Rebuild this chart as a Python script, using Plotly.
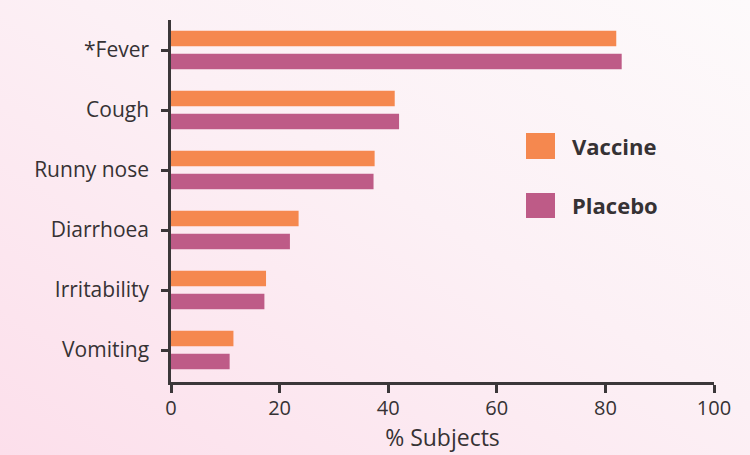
import plotly.graph_objects as go

# Symptoms, listed bottom to top on the category axis
symptoms = ["Vomiting", "Irritability", "Diarrhoea", "Runny nose", "Cough", "*Fever"]
vaccine_pct = [11.5, 17.5, 23.5, 37.5, 41.2, 82.0]
placebo_pct = [10.8, 17.2, 21.9, 37.3, 42.0, 83.0]

series_names = ["Vaccine", "Placebo"]
x_ticks = [0, 20, 40, 60, 80, 100]

VACCINE_COLOR = "#f5884f"
PLACEBO_COLOR = "#be5b87"
TEXT_COLOR = "#363234"
AXIS_COLOR = "#3b3739"
FONT = "Open Sans, Lato, sans-serif"

W, H = 750, 455
M_L, M_R, M_T, M_B = 171, 36, 20, 73
PW, PH = W - M_L - M_R, H - M_T - M_B

fig = go.Figure()
# placebo is drawn first so it sits below the vaccine bar in each group
fig.add_trace(go.Bar(y=symptoms, x=placebo_pct, orientation="h",
                     name=series_names[1], marker=dict(color=PLACEBO_COLOR, line=dict(width=0))))
fig.add_trace(go.Bar(y=symptoms, x=vaccine_pct, orientation="h",
                     name=series_names[0], marker=dict(color=VACCINE_COLOR, line=dict(width=0))))

# soft pink diagonal background over the whole canvas
bg_svg = (
    "data:image/svg+xml;utf8,"
    "<svg xmlns='http://www.w3.org/2000/svg' width='750' height='455' preserveAspectRatio='none'>"
    "<defs><linearGradient id='g' x1='0' y1='1' x2='1' y2='0'>"
    "<stop offset='0' stop-color='%23fcdfeb'/>"
    "<stop offset='0.55' stop-color='%23fcf0f5'/>"
    "<stop offset='1' stop-color='%23fdfafb'/>"
    "</linearGradient></defs>"
    "<rect width='750' height='455' fill='url(%23g)'/></svg>"
)
fig.add_layout_image(dict(
    source=bg_svg, xref="paper", yref="paper",
    x=-M_L / PW, y=1 + M_T / PH, sizex=W / PW, sizey=H / PH,
    xanchor="left", yanchor="top", sizing="stretch", layer="below",
))

# legend: colour swatches with bold labels
legend_items = [(series_names[0], VACCINE_COLOR, 133, 159),
                (series_names[1], PLACEBO_COLOR, 193, 218)]
for name, color, top_px, bot_px in legend_items:
    y0 = (H - M_B - bot_px) / PH
    y1 = (H - M_B - top_px) / PH
    fig.add_shape(type="rect", xref="paper", yref="paper",
                  x0=(526 - M_L) / PW, x1=(555 - M_L) / PW, y0=y0, y1=y1,
                  fillcolor=color, line=dict(width=0))
    fig.add_annotation(xref="paper", yref="paper", x=(570 - M_L) / PW, y=(y0 + y1) / 2,
                       text=f"<b>{name}</b>", showarrow=False, xanchor="left", yanchor="middle",
                       font=dict(family=FONT, size=22, color=TEXT_COLOR))

fig.update_layout(
    width=W, height=H,
    margin=dict(l=M_L, r=M_R, t=M_T, b=M_B, pad=0),
    barmode="group", bargap=0.24, bargroupgap=0.32,
    paper_bgcolor="#fcecf2", plot_bgcolor="rgba(0,0,0,0)",
    showlegend=False,
    font=dict(family=FONT, size=21, color=TEXT_COLOR),
    xaxis=dict(
        range=[0, 100], tickvals=x_ticks, ticktext=[str(v) for v in x_ticks],
        showgrid=False, zeroline=False,
        showline=True, linecolor=AXIS_COLOR, linewidth=2.5,
        ticks="outside", ticklen=8, tickwidth=2.5, tickcolor=AXIS_COLOR,
        ticklabelstandoff=-2,
        tickfont=dict(size=20, color=TEXT_COLOR),
        title=dict(text="% Subjects", font=dict(size=23, color=TEXT_COLOR), standoff=4),
    ),
    yaxis=dict(
        type="category", categoryorder="array", categoryarray=symptoms,
        range=[-0.533, 5.5],
        showgrid=False, zeroline=False,
        showline=True, linecolor=AXIS_COLOR, linewidth=2.5,
        ticks="outside", ticklen=7, tickwidth=2.5, tickcolor=AXIS_COLOR,
        ticklabelstandoff=8,
        tickfont=dict(size=21, color=TEXT_COLOR),
    ),
)

fig.write_html("out.html")
